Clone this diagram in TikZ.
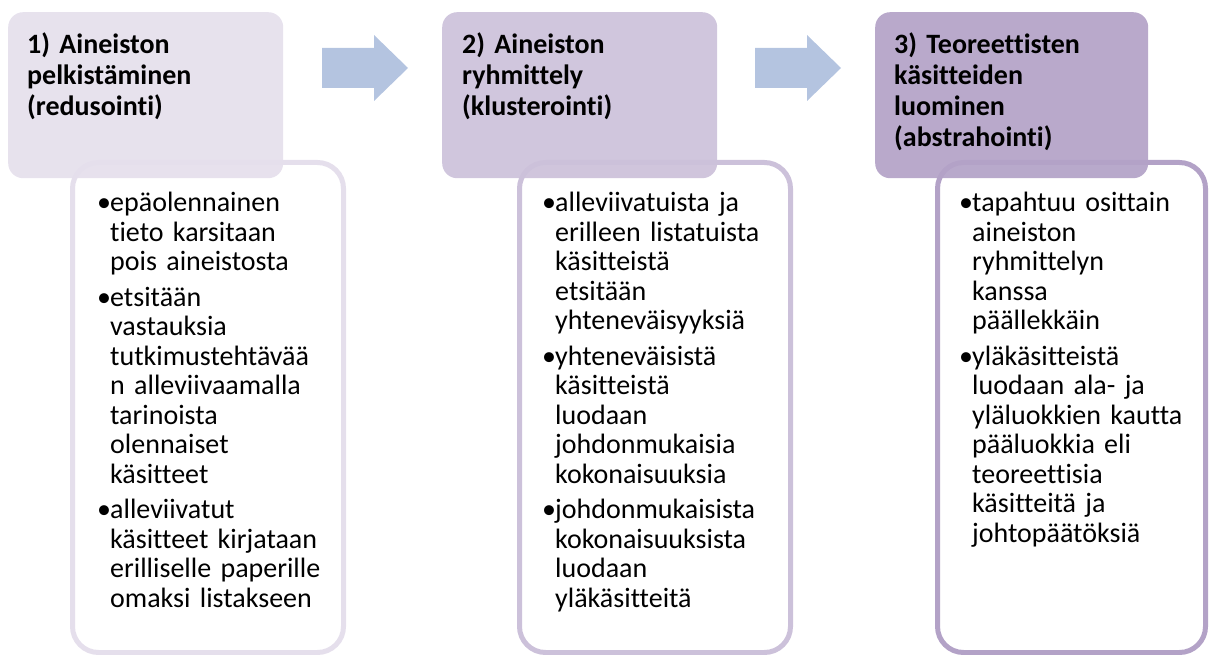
\documentclass[tikz,border=0pt]{standalone}
\usepackage{fontspec}
\setmainfont{Carlito}[Ligatures=NoCommon, WordSpace=0.8]
\usetikzlibrary{calc}
\definecolor{lavA}{HTML}{E5DFEC}
\definecolor{lavB}{HTML}{CCC1DA}
\definecolor{lavC}{HTML}{B3A2C7}
\definecolor{arrblue}{HTML}{B4C4E0}

\frenchspacing
\newcommand\itm[1]{\par\noindent\hangindent=10pt\hangafter=1\makebox[10pt][l]{\kern-3pt\textbullet}#1\par}

\begin{document}
\begin{tikzpicture}[
  x=1pt, y=-1pt,
  head/.style={rectangle, rounded corners=15pt, minimum width=275pt, minimum height=166pt,
               inner sep=0pt, anchor=north west, fill opacity=0.92},
  body/.style={rectangle, rounded corners=26pt, minimum width=271pt, minimum height=490pt,
               inner sep=0pt, anchor=north west, fill=white, line width=5pt},
  htext/.style={anchor=north west, inner sep=0pt, text width=250pt, align=left,
                font=\fontsize{28}{31}\selectfont\bfseries},
  btext/.style={anchor=north west, inner sep=0pt, text width=236pt, align=left,
                font=\fontsize{28}{29.5}\selectfont\setlength\parskip{6pt}},
  blockarr/.style={fill=arrblue},
]
\useasboundingbox (0,0) rectangle (1209,655);

% ---------------- the body boxes ----------------
\node[body, draw=lavA] (bd1) at (70, 160)  {};
\node[body, draw=lavB] (bd2) at (517, 160) {};
\node[body, draw=lavC, minimum width=268pt] (bd3) at (935, 160) {};

% ---------------- the step headers ----------------
\node[head, fill=lavA] (hd1) at (8, 12)   {};
\node[head, fill=lavB] (hd2) at (442, 12) {};
\node[head, fill=lavC, minimum width=273pt] (hd3) at (875, 12) {};

\node[htext] (ht1) at ($(hd1.north west)+(19,21)$) {1) Aineiston\\pelkistäminen\\(redusointi)};
\node[htext] (ht2) at ($(hd2.north west)+(20,21)$) {2) Aineiston\\ryhmittely\\(klusterointi)};
\node[htext] (ht3) at ($(hd3.north west)+(19,21)$) {3) Teoreettisten\\käsitteiden\\luominen\\(abstrahointi)};

% ---------------- the arrows ----------------
\foreach \ax in {322, 755}
  \fill[blockarr] (\ax, 48) -- ++(52, 0) -- ++(0, -13) -- ++(34, 33) -- ++(-34, 33)
                  -- ++(0, -13) -- ++(-52, 0) -- cycle;

% ---------------- the bullet texts ----------------
\node[btext] (bt1) at ($(bd1.north west)+(30,16)$) {%
  \itm{epäolennainen\newline tieto karsitaan\newline pois aineistosta}
  \itm{etsitään\newline vastauksia\newline tutkimustehtävää\newline n alleviivaamalla\newline tarinoista\newline olennaiset\newline käsitteet}
  \itm{alleviivatut\newline käsitteet kirjataan\newline erilliselle paperille\newline omaksi listakseen}};
\node[btext] (bt2) at ($(bd2.north west)+(28,16)$) {%
  \itm{alleviivatuista ja\newline erilleen listatuista\newline käsitteistä\newline etsitään\newline yhteneväisyyksiä}
  \itm{yhteneväisistä\newline käsitteistä\newline luodaan\newline johdonmukaisia\newline kokonaisuuksia}
  \itm{johdonmukaisista\newline kokonaisuuksista\newline luodaan\newline yläkäsitteitä}};
\node[btext] (bt3) at ($(bd3.north west)+(27,16)$) {%
  \itm{tapahtuu osittain\newline aineiston\newline ryhmittelyn\newline kanssa\newline päällekkäin}
  \itm{yläkäsitteistä\newline luodaan ala- ja\newline yläluokkien kautta\newline pääluokkia eli\newline teoreettisia\newline käsitteitä ja\newline johtopäätöksiä}};

\end{tikzpicture}
\end{document}
